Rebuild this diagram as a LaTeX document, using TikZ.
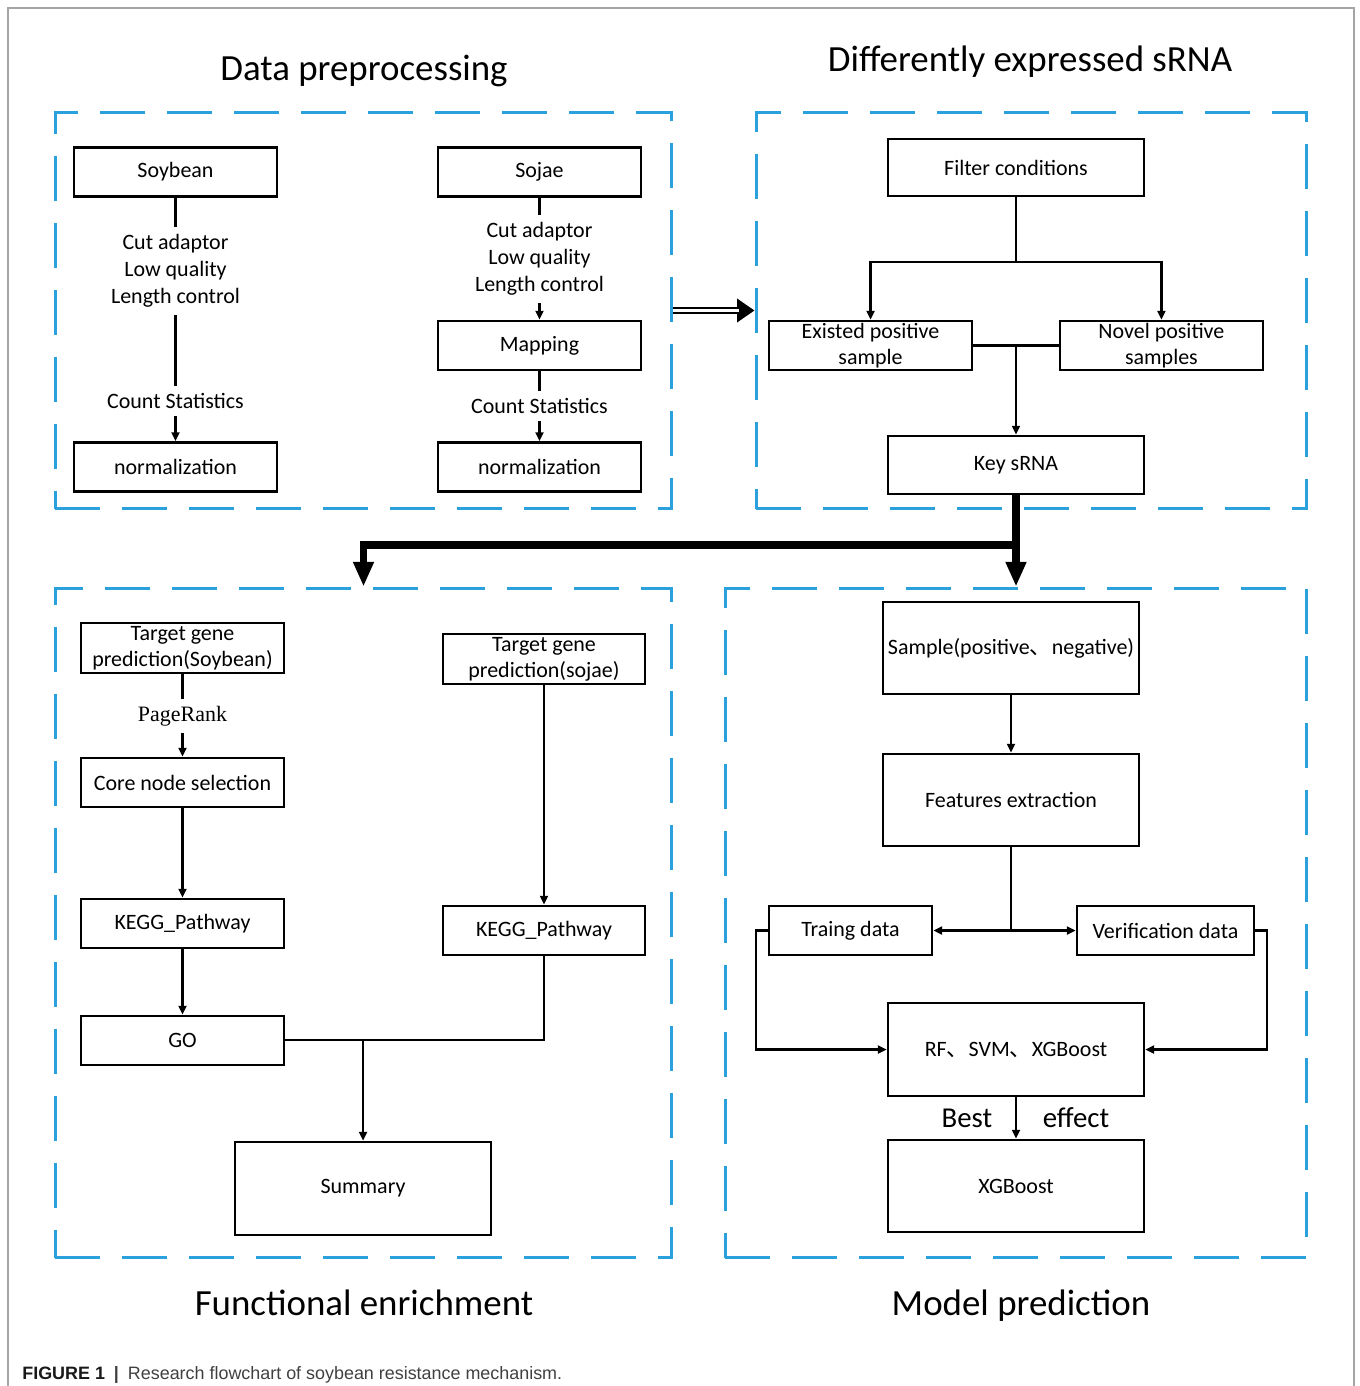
\documentclass[tikz,border=0pt]{standalone}
\usepackage{fontspec}
\setmainfont{Carlito}
\newfontfamily\capfont{Liberation Sans}
\newfontfamily\rankfont{Liberation Serif}
\newfontfamily\cjk{Noto Sans CJK SC}
\usetikzlibrary{arrows.meta}

\definecolor{dashblue}{RGB}{42,160,220}
\definecolor{framegray}{RGB}{165,165,165}
\newcommand{\dun}{{\cjk 、}}

\tikzset{
  box/.style={draw, line width=1.5pt, inner sep=0pt, align=center,
    minimum width=4.06cm, minimum height=0.98cm,
    font=\fontsize{12.5}{14.8}\selectfont},
  widebox/.style={box, minimum width=5.12cm, minimum height=1.84cm},
  lbl/.style={inner sep=4pt, align=center, font=\fontsize{12.5}{15.4}\selectfont},
  region/.style={draw=dashblue, line width=1.7pt, dash pattern=on 0.9cm off 0.44cm},
  heading/.style={anchor=base, font=\fontsize{21}{25}\selectfont},
  link/.style={line width=1.2pt},
  bigarrow/.style={line width=4pt, -{Triangle[length=14pt,width=11pt]}}
}

\begin{document}
\begin{tikzpicture}[x=0.02cm, y=-0.02cm, >={Triangle[length=5pt,width=4.5pt]}]
  \useasboundingbox (0,0) rectangle (1359,1386);
  \draw[framegray, line width=0.8pt] (8,1386) -- (8,8) -- (1354,8) -- (1354,1386);

  % the four dashed regions
  \node[region, minimum width=12.34cm, minimum height=7.94cm] (prep) at (363.5,310.5) {};
  \node[region, minimum width=11.02cm, minimum height=7.94cm] (diff) at (1031.5,310.5) {};
  \node[region, minimum width=12.34cm, minimum height=13.4cm] (func) at (363.5,923) {};
  \node[region, minimum width=11.64cm, minimum height=13.4cm] (model) at (1016,923) {};

  \node[heading] (tprep) at (364,80) {Data preprocessing};
  \node[heading] (tdiff) at (1030,71) {Differently expressed sRNA};
  \node[heading] (tfunc) at (364,1315) {Functional enrichment};
  \node[heading] (tmodel) at (1021,1315) {Model prediction};

  % data preprocessing
  \node[box] (soy) at (175.5,172) {Soybean};
  \node[lbl] (soycut) [below of = soy, node distance=1.98cm] {Cut adaptor\\Low quality\\Length control};
  \node[lbl] (soycnt) [below of = soy, node distance=4.58cm] {Count Statistics};
  \node[box] (soynorm) [below of = soy, node distance=5.9cm] {normalization};
  \node[box] (soj) at (539.5,172) {Sojae};
  \node[lbl] (sojcut) [below of = soj, node distance=1.74cm] {Cut adaptor\\Low quality\\Length control};
  \node[box] (sojmap) [below of = soj, node distance=3.47cm] {Mapping};
  \node[lbl] (sojcnt) [below of = soj, node distance=4.68cm] {Count Statistics};
  \node[box] (sojnorm) [below of = soj, node distance=5.9cm] {normalization};
  \draw[link] (soy) -- (soycut);
  \draw[link] (soycut) -- (soycnt);
  \draw[link,->] (soycnt) -- (soynorm);
  \draw[link] (soj) -- (sojcut);
  \draw[link,->] (sojcut) -- (sojmap);
  \draw[link] (sojmap) -- (sojcnt);
  \draw[link,->] (sojcnt) -- (sojnorm);

  % double arrow between the upper regions
  \draw[line width=4.4pt, -{Triangle[length=10pt,width=13pt]}] (prep) -- (diff);
  \draw[white, line width=1.2pt, shorten >=9pt] (prep) -- (diff);

  % differently expressed sRNA
  \node[box, minimum width=5.12cm, minimum height=1.14cm] (filt) at (1016,167.5) {Filter conditions};
  \node[box] (exist) at (870.5,345.5) {Existed positive\\sample};
  \node[box] (novel) [right of = exist, node distance=5.82cm] {Novel positive\\samples};
  \node[box, minimum width=5.12cm, minimum height=1.16cm] (key) [below of = filt, node distance=5.95cm] {Key sRNA};
  \coordinate (fork) at (1016,262);
  \coordinate (join) at (1016,346);
  \draw[link,->] (filt) -- (fork) -| (exist);
  \draw[link,->] (fork) -| (novel);
  \draw[link] (exist) -- (novel);
  \draw[link,->] (join) -- (key);

  % key sRNA feeds both lower regions
  \coordinate (branch) at (1016,545);
  \draw[bigarrow] (key) -- (model);
  \draw[bigarrow] (branch) -| (func);

  % functional enrichment
  \node[box, minimum height=1.0cm] (tgsoy) at (182.5,648) {Target gene\\prediction(Soybean)};
  \node[lbl, font=\rankfont\fontsize{12.5}{15}\selectfont] (prank) [below of = tgsoy, node distance=1.36cm] {PageRank};
  \node[box] (core) [below of = tgsoy, node distance=2.69cm] {Core node selection};
  \node[box] (kegg1) [below of = tgsoy, node distance=5.51cm] {KEGG\_Pathway};
  \node[box] (go) [below of = tgsoy, node distance=7.85cm] {GO};
  \node[box, minimum width=4.04cm, minimum height=1.0cm] (tgsoj) at (544,659) {Target gene\\prediction(sojae)};
  \node[box, minimum width=4.04cm] (kegg2) [below of = tgsoj, node distance=5.43cm] {KEGG\_Pathway};
  \node[widebox, minimum height=1.86cm] (summ) at (363,1188.5) {Summary};
  \coordinate (merge) at (363,1040.5);
  \draw[link] (tgsoy) -- (prank);
  \draw[link,->] (prank) -- (core);
  \draw[link,->] (core) -- (kegg1);
  \draw[link,->] (kegg1) -- (go);
  \draw[link,->] (tgsoj) -- (kegg2);
  \draw[link] (kegg2) |- (go);
  \draw[link,->] (merge) -- (summ);

  % model prediction
  \node[widebox] (samp) at (1011,648) {Sample(positive\dun{}negative)};
  \node[widebox] (feat) [below of = samp, node distance=3.04cm] {Features extraction};
  \node[box, minimum width=3.26cm] (train) at (850.5,930.5) {Traing data};
  \node[box, minimum width=3.54cm] (verif) at (1165.5,930.5) {Verification data};
  \node[widebox, minimum height=1.86cm] (algo) at (1016,1049.5) {RF\dun{}SVM\dun{}XGBoost};
  \node[widebox] (xgb) [below of = algo, node distance=2.73cm] {XGBoost};
  \node[anchor=base, font=\fontsize{16.4}{20}\selectfont] (best) at (967,1127) {Best};
  \node[anchor=base, font=\fontsize{16.4}{20}\selectfont] (effect) at (1076,1127) {effect};
  \coordinate (split) at (1011,930.5);
  \coordinate (trainturn) at (756,930.5);
  \coordinate (verturn) at (1267,930.5);
  \draw[link,->] (samp) -- (feat);
  \draw[link] (feat) -- (split);
  \draw[link,->] (split) -- (train);
  \draw[link,->] (split) -- (verif);
  \draw[link,->] (train) -- (trainturn) |- (algo);
  \draw[link,->] (verif) -- (verturn) |- (algo);
  \draw[link,->] (algo) -- (xgb);

  \node[anchor=base west, inner sep=0pt, text=black!75, font=\capfont\fontsize{10.2}{12}\selectfont] (caption) at (22,1379)
    {\textbf{\color{black!90}FIGURE 1}\enspace\textbf{|}\enspace Research flowchart of soybean resistance mechanism.};
\end{tikzpicture}
\end{document}
